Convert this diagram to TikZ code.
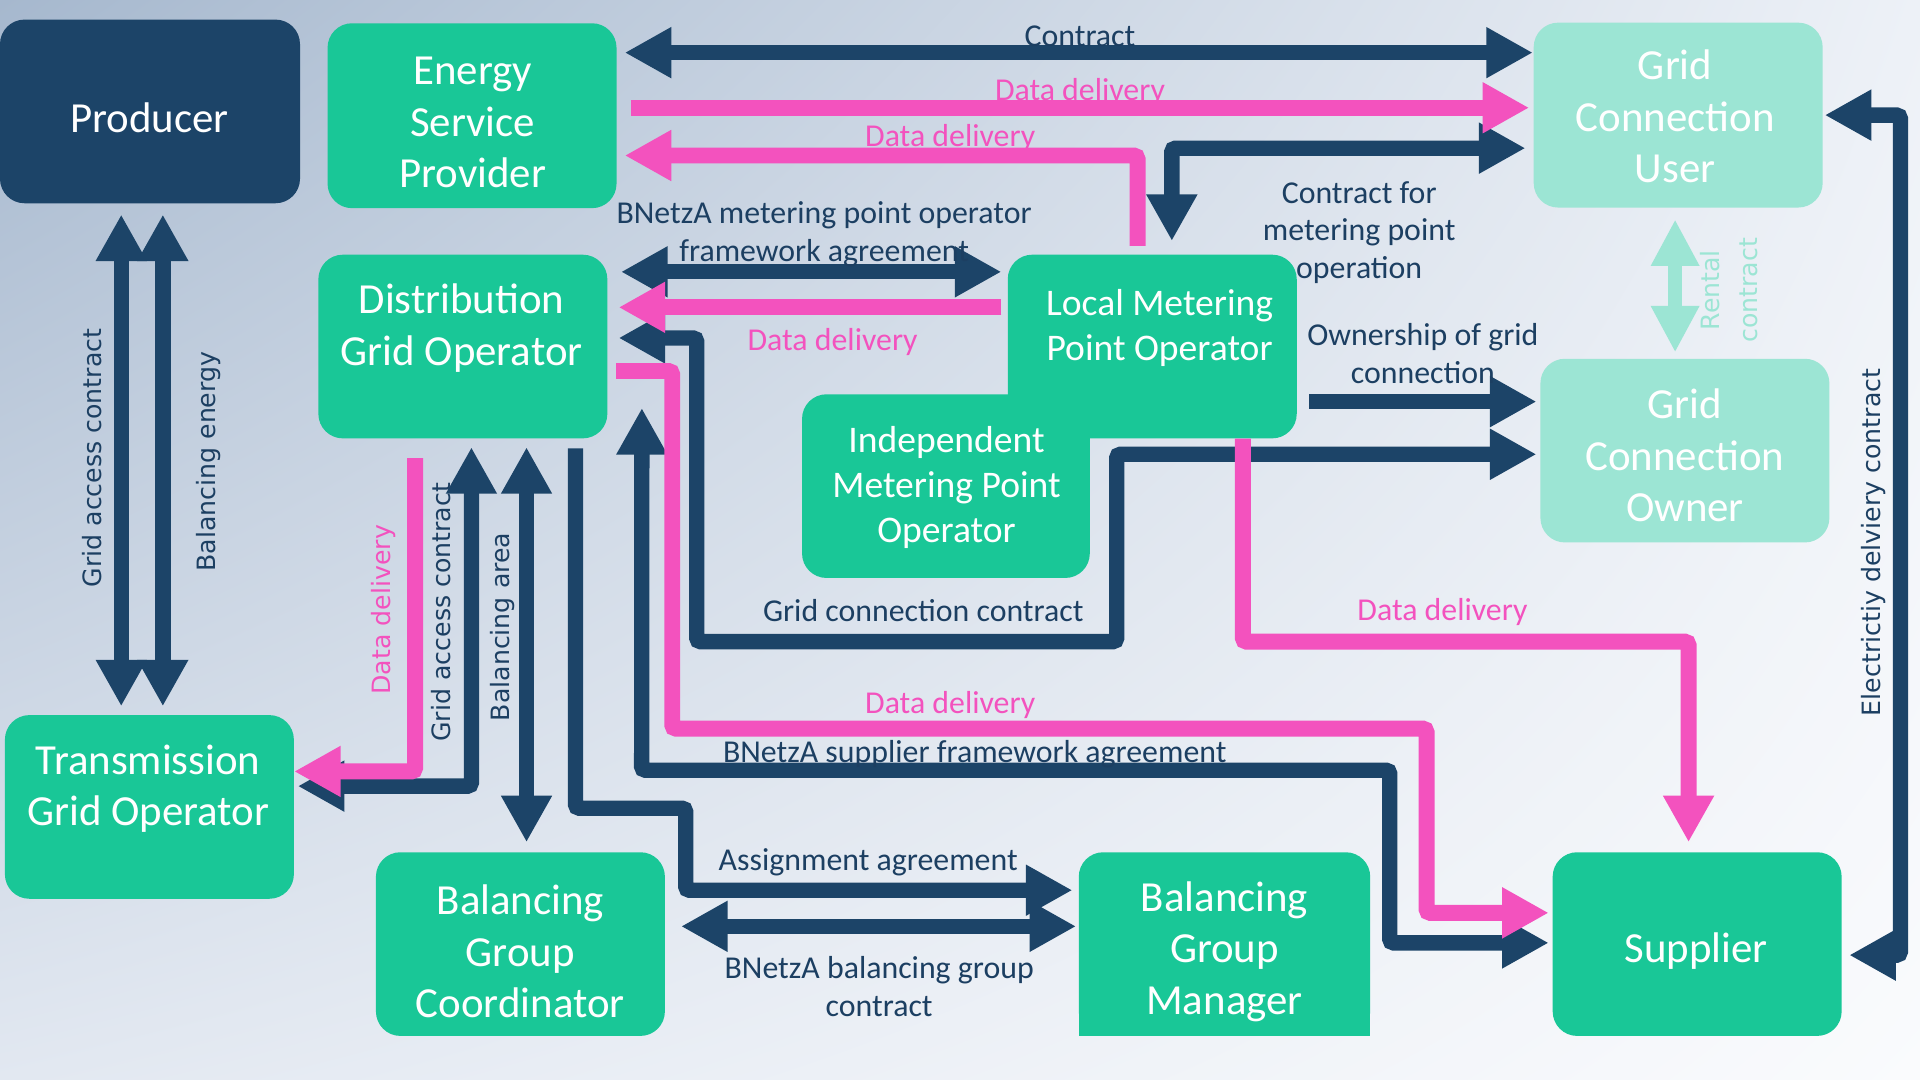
\documentclass[tikz,border=0pt]{standalone}
\usepackage{fontspec}
\setmainfont{Carlito}
\newfontfamily\dvs{DejaVu Sans}
\usetikzlibrary{arrows.meta,calc,shadings}
\definecolor{navy}{HTML}{1C4468}
\definecolor{grn}{HTML}{19C797}
\definecolor{mint}{HTML}{9CE5D4}
\definecolor{pnk}{HTML}{F352BE}
\definecolor{lbl}{HTML}{1C3F62}
\definecolor{bgTL}{HTML}{A6B8CE}
\definecolor{bgTR}{HTML}{EDF1F7}
\definecolor{bgBL}{HTML}{E2E8F1}
\definecolor{bgBR}{HTML}{FAFBFD}
\tikzset{
  boxg/.style={rectangle, rounded corners=20pt, fill=grn, inner sep=0pt},
  boxm/.style={boxg, fill=mint},
  boxtxt/.style={text=white, align=center, font=\fontsize{35}{42}\selectfont, inner sep=0pt},
  boxtxts/.style={boxtxt, font=\fontsize{30.7}{37}\selectfont},
  lab/.style={text=lbl, align=center, font=\fontsize{26}{31}\selectfont, inner sep=0pt},
  plab/.style={lab, text=pnk},
  rlab/.style={text=lbl, align=center, font=\dvs\fontsize{20.6}{31}\selectfont, rotate=90, inner sep=0pt},
  nav/.style={draw=navy, line width=12.5pt, rounded corners=3pt},
  nar/.style={nav, -{Triangle[width=39pt,length=38pt]}},
  nboth/.style={nav, {Triangle[width=39pt,length=38pt]}-{Triangle[width=39pt,length=38pt]}},
  pk/.style={draw=pnk, line width=13pt, rounded corners=3pt},
  par/.style={pk, -{Triangle[width=39pt,length=38pt]}},
  mintboth/.style={draw=mint, line width=11.5pt, {Triangle[width=37pt,length=38pt]}-{Triangle[width=37pt,length=38pt]}},
}
\begin{document}
\begin{tikzpicture}[x=1pt,y=-1pt]
\useasboundingbox (0,0) rectangle (1568,882);
\shade[upper left=bgTL, upper right=bgTR, lower left=bgBL, lower right=bgBR] (0,0) rectangle (1568,882);

% boxes
\node[boxg, fill=navy, minimum width=245pt, minimum height=150pt] (prod) at (122.5,91) {};
\node[boxg, minimum width=236pt, minimum height=151pt] (esp) at (385.5,94.5) {};
\node[boxg, minimum width=236pt, minimum height=150pt] (dgo) at (378,283) {};
\node[boxg, minimum width=236pt, minimum height=150pt] (tso) at (122,659) {};
\node[boxg, minimum width=236pt, minimum height=150pt] (bgc) at (425,771) {};
\node[boxg, minimum width=238pt, minimum height=150pt] (bgm) at (1000,771) {};
\fill[grn] (881,790) rectangle (1119,846);
\node[boxg, minimum width=236pt, minimum height=150pt] (sup) at (1386,771) {};
\node[boxm, minimum width=236pt, minimum height=151pt] (gcu) at (1370.5,94) {};
\node[boxm, minimum width=236pt, minimum height=150pt] (gco) at (1376,368) {};
\node[boxg, minimum width=236pt, minimum height=150pt] (lmpo) at (941,283) {};
\node[boxg, minimum width=235pt, minimum height=150pt] (impo) at (772.5,397) {};

% box texts
\node[boxtxt] (prodT) at (122,96) {Producer};
\node[boxtxt] (espT) at (386,100) {Energy\\Service\\Provider};
\node[boxtxt] (dgoT) at (377,268) {Distribution\\Grid Operator};
\node[boxtxt] (tsoT) at (121,644) {Transmission\\Grid Operator};
\node[boxtxt] (bgcT) at (425,777) {Balancing\\Group\\Coordinator};
\node[boxtxt] (bgmT) at (1000,777) {Balancing\\Group\\Manager};
\node[boxtxt] (supT) at (1385,777) {Supplier};
\node[boxtxt] (gcuT) at (1368,95) {Grid\\Connection\\User};
\node[boxtxt] (gcoT) at (1376,372) {Grid\\Connection\\Owner};
\node[boxtxts] (lmpoT) at (947,268) {Local Metering\\Point Operator};
\node[boxtxts] (impoT) at (773,398) {Independent\\Metering Point\\Operator};

% navy connectors
\draw[nboth] ($(esp.east)+(6.5,-51.5)$) -- ($(gcu.west)+(-0.5,-51)$);
\draw[nboth] ($(gcu.west)+(-6.5,27)$) -- (957,121) -- ($(lmpo.north)+(16,-11)$);
\draw[nboth] ($(dgo.east)+(11,-61)$) -- ($(lmpo.west)+(-5,-61)$);
\draw[nboth] ($(gco.west)+(-3,3)$) -- (912,371) -- (912,524) -- (569,524) -- (569,276) -- ($(dgo.east)+(9,-7)$);
\draw[nar] ($(lmpo.east)+(10,45)$) -- ($(gco.west)+(-3,-40)$);
\draw[nboth] ($(gcu.east)+(1.5,0)$) -- (1552,94) -- (1552,780) -- ($(sup.east)+(6,9)$);
\draw[nboth] ($(dgo.south east)+(28,-25)$) -- (524,629) -- (1135,629) -- (1135,770) -- ($(sup.west)+(-3,-1)$);
\draw[nboth] ($(tso.east)+(3,-17)$) -- (385,642) -- ($(dgo.south)+(7,7)$);
\draw[nboth] ($(dgo.south)+(52,7)$) -- ($(bgc.north)+(5,-8)$);
\draw[nar] ($(dgo.south)+(92,8)$) -- (470,660) -- (560,660) -- (560,727) -- ($(bgm.west)+(-5,-44)$);
\draw[nboth] ($(bgc.east)+(13,-14.5)$) -- ($(bgm.west)+(-2,-14.5)$);
\draw[nboth] ($(prod.south)+(-23.5,9)$) -- ($(tso.north)+(-23,-7)$);
\draw[nboth] ($(prod.south)+(10.5,9)$) -- ($(tso.north)+(11,-7)$);
% mint connector
\draw[mintboth] ($(gcu.south)+(-2.5,9.5)$) -- ($(gco.north)+(-8,-5)$);
% pink connectors
\draw[par] ($(esp.east)+(11.5,-6.5)$) -- ($(gcu.west)+(-3.5,-6)$);
\draw[par] ($(lmpo.north)+(-12,-7)$) -- (929,127) -- ($(esp.east)+(6.5,32.5)$);
\draw[par] ($(lmpo.west)+(-5,-32)$) -- ($(dgo.east)+(9,-32)$);
\draw[par] ($(lmpo.south)+(74,0)$) -- (1015,524) -- (1379,524) -- ($(sup.north)+(-7,-8)$);
\draw[par] ($(dgo.east)+(7,20)$) -- (549,303) -- (549,595) -- (1165,595) -- (1165,745.5) -- ($(sup.west)+(-3,-25.5)$);
\draw[par] ($(dgo.south)+(-39,16)$) -- (339,630) -- ($(tso.east)+(0,-29)$);

% labels
\node[lab] (l1) at (882,30) {Contract};
\node[plab] (l2) at (882,75) {Data delivery};
\node[plab] (l3) at (776,113) {Data delivery};
\node[lab] (l4) at (673,191) {BNetzA metering point operator\\framework agreement};
\node[plab] (l5) at (680,279) {Data delivery};
\node[lab] (l6) at (1110,190) {Contract for\\metering point\\operation};
\node[lab] (l7) at (1162,289) {Ownership of grid\\connection};
\node[lab] (l8) at (754,499) {Grid connection contract};
\node[plab] (l9) at (1178,500) {Data delivery};
\node[plab] (l10) at (776,576) {Data delivery};
\node[lab] (l11) at (796,616) {BNetzA supplier framework agreement};
\node[lab] (l12) at (709,704) {Assignment agreement};
\node[lab] (l13) at (718,806) {BNetzA balancing group\\contract};
\node[rlab] (r1) at (75,374) {Grid access contract};
\node[rlab] (r2) at (170,377) {Balancing energy};
\node[rlab, text=pnk] (r3) at (313,498) {Data delivery};
\node[rlab] (r4) at (360,500) {Grid access contract};
\node[rlab] (r5) at (410,512) {Balancing area};
\node[rlab, text=mint] (r6) at (1412,237) {Rental\\contract};
\node[rlab] (r7) at (1530,443) {Electrictiy delviery contract};
\end{tikzpicture}
\end{document}
